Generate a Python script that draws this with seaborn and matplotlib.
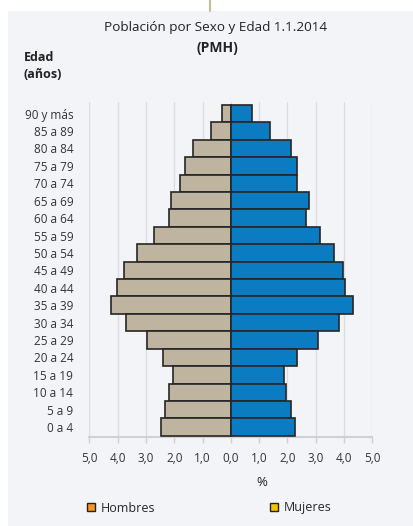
import matplotlib
matplotlib.use("Agg")
import matplotlib.pyplot as plt
import seaborn as sns
import pandas as pd
from matplotlib.patches import Rectangle, Patch
from matplotlib.lines import Line2D
from matplotlib.ticker import FuncFormatter, FixedLocator

ages = ["90 y más", "85 a 89", "80 a 84", "75 a 79", "70 a 74", "65 a 69",
        "60 a 64", "55 a 59", "50 a 54", "45 a 49", "40 a 44", "35 a 39",
        "30 a 34", "25 a 29", "20 a 24", "15 a 19", "10 a 14", "5 a 9", "0 a 4"]
hombres = [0.30, 0.70, 1.33, 1.61, 1.79, 2.10, 2.20, 2.71, 3.33, 3.77,
           4.03, 4.22, 3.71, 2.95, 2.39, 2.06, 2.20, 2.32, 2.48]
mujeres = [0.76, 1.38, 2.13, 2.34, 2.34, 2.75, 2.65, 3.14, 3.63, 3.96,
           4.03, 4.31, 3.81, 3.07, 2.34, 1.89, 1.94, 2.13, 2.26]
xticks = [-5, -4, -3, -2, -1, 0, 1, 2, 3, 4, 5]

sns.set_theme(style="white")
plt.rcParams['font.family'] = ['Open Sans', 'DejaVu Sans']

df = pd.DataFrame({
    "edad": ages * 2,
    "valor": [-v for v in hombres] + mujeres,
    "sexo": ["Hombres"] * len(ages) + ["Mujeres"] * len(ages),
})

W, H = 413, 526
fig = plt.figure(figsize=(W / 100, H / 100), dpi=100)
fig.patch.set_facecolor("white")
panel_bg = "#f3f4f8"
fig.patches.append(Rectangle((8 / W, 0), 1 - 8 / W, 1 - 11 / H, transform=fig.transFigure,
                             facecolor=panel_bg, edgecolor="none", zorder=-10))
fig.lines.append(Line2D([210 / W, 210 / W], [1 - 11 / H, 1], transform=fig.transFigure,
                        color="#c8b99a", lw=1.5))

ax = fig.add_axes([89.3 / W, 1 - 437.3 / H, (372.3 - 89.3) / W, (437.3 - 102) / H])
ax.set_facecolor(panel_bg)

sns.barplot(data=df, y="edad", x="valor", hue="sexo", order=ages, dodge=False,
            palette={"Hombres": "#bfb4a0", "Mujeres": "#0b7cc2"}, width=1.0,
            saturation=1, edgecolor="#262626", linewidth=1.2, legend=False, ax=ax, zorder=3)

ax.set_xlim(-5, 5)
ax.set_ylim(18.59, -0.67)
ax.xaxis.set_major_locator(FixedLocator(xticks))
ax.xaxis.set_major_formatter(FuncFormatter(lambda v, p: f"{abs(v):.1f}".replace(".", ",")))
ax.grid(axis="x", color="#dcdde3", lw=1.0, zorder=0)
ax.grid(axis="y", visible=False)
for s in ["top", "right", "left"]:
    ax.spines[s].set_visible(False)
ax.spines["bottom"].set_color("#d0d0d4")
ax.spines["bottom"].set_linewidth(1.5)
ax.tick_params(axis="x", bottom=True, length=4, width=1, color="#d0d0d4",
               labelsize=8.5, labelcolor="#333333", pad=6.5)
ax.tick_params(axis="y", left=False, length=0, labelsize=8.5, labelcolor="#333333", pad=11.5)
ax.set_xlabel("")
ax.set_ylabel("")

fig.text(216 / W, 1 - 27 / H, "Población por Sexo y Edad 1.1.2014", ha="center", va="center",
         fontsize=9.7, color="#222222")
fig.text(217 / W, 1 - 48 / H, "(PMH)", ha="center", va="center", fontsize=10,
         fontweight="bold", color="#222222")
fig.text(24 / W, 1 - 58 / H, "Edad", ha="left", va="center", fontsize=9,
         fontweight="bold", color="#222222")
fig.text(24 / W, 1 - 75 / H, "(años)", ha="left", va="center", fontsize=9,
         fontweight="bold", color="#222222")
fig.text(262 / W, 1 - 483 / H, "%", ha="center", va="center", fontsize=9.5,
         color="#222222")

h1 = Patch(facecolor="#f5961e", edgecolor="#222222", lw=1)
h2 = Patch(facecolor="#f2c500", edgecolor="#222222", lw=1)
fig.legend([h1], ["Hombres"], loc="center left", bbox_to_anchor=(76 / W, 1 - 508 / H),
           frameon=False, fontsize=9, handlelength=0.6, handleheight=0.6, handletextpad=0.5)
fig.legend([h2], ["Mujeres"], loc="center left", bbox_to_anchor=(259 / W, 1 - 508 / H),
           frameon=False, fontsize=9, handlelength=0.6, handleheight=0.6, handletextpad=0.5)

fig.savefig("out.png", dpi=100, facecolor=fig.get_facecolor())
